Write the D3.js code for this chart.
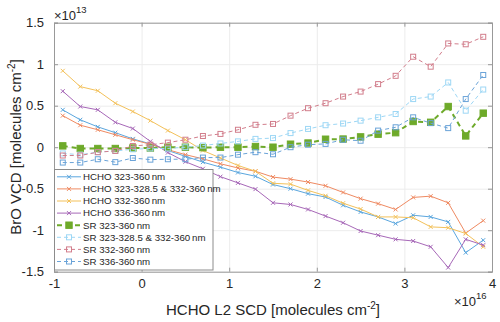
<!DOCTYPE html>
<html><head><meta charset="utf-8">
<script src="https://cdn.jsdelivr.net/npm/d3@7"></script>
<style>html,body{margin:0;padding:0;background:#fff;}svg{display:block;font-family:"Liberation Sans",Arial,sans-serif;}</style>
</head><body>
<svg id="c" width="500" height="322"></svg>
<script>
const xValues = [-0.9,-0.7,-0.5,-0.3,-0.1,0.1,0.3,0.5,0.7,0.9,1.1,1.3,1.5,1.7,1.9,2.1,2.3,2.5,2.7,2.9,3.1,3.3,3.5,3.7,3.9];
const hcho323 = [0.45,0.33,0.245,0.175,0.10,0.04,-0.04,-0.11,-0.18,-0.24,-0.305,-0.35,-0.45,-0.50,-0.56,-0.60,-0.70,-0.78,-0.84,-0.92,-0.82,-0.84,-0.90,-1.27,-1.12];
const hcho323b = [0.38,0.265,0.21,0.15,0.09,0.035,-0.03,-0.09,-0.14,-0.20,-0.25,-0.29,-0.36,-0.385,-0.42,-0.465,-0.545,-0.62,-0.68,-0.75,-0.605,-0.59,-0.67,-1.035,-0.885];
const hcho332 = [0.92,0.73,0.68,0.53,0.43,0.32,0.20,0.09,-0.04,-0.13,-0.22,-0.29,-0.435,-0.445,-0.52,-0.585,-0.675,-0.745,-0.84,-0.84,-0.85,-0.96,-0.97,-1.04,-1.20];
const hcho336 = [0.675,0.49,0.45,0.30,0.225,0.07,-0.065,-0.175,-0.26,-0.355,-0.43,-0.505,-0.67,-0.69,-0.75,-0.83,-0.91,-1.01,-1.06,-1.11,-1.13,-1.20,-1.45,-1.11,-1.18];
const sr323 = [0.016,-0.016,-0.016,-0.016,-0.01,-0.01,0.0,0.0,-0.005,0.0,0.0,0.008,0.0,0.036,0.05,0.096,0.098,0.124,0.157,0.175,0.31,0.30,0.49,0.136,0.41];
const sr323b = [-0.075,-0.09,-0.06,-0.045,-0.025,-0.015,-0.015,0.0,0.02,0.045,0.07,0.10,0.11,0.17,0.22,0.265,0.285,0.32,0.36,0.40,0.58,0.61,0.78,0.44,0.695];
const sr332 = [-0.10,-0.10,-0.06,-0.045,0.015,0.03,0.055,0.09,0.135,0.16,0.21,0.27,0.28,0.38,0.47,0.53,0.61,0.67,0.76,0.86,1.09,0.97,1.25,1.24,1.33];
const sr336 = [-0.185,-0.185,-0.145,-0.18,-0.13,-0.15,-0.145,-0.145,-0.125,-0.125,-0.09,-0.06,-0.085,0.0,0.03,0.04,0.09,0.078,0.20,0.24,0.36,0.29,0.23,0.58,0.87];
const seriesNames = ["HCHO 323-360\u2009nm","HCHO 323-328.5 & 332-360\u2009nm","HCHO 332-360\u2009nm","HCHO 336-360\u2009nm","SR 323-360\u2009nm","SR 323-328.5 & 332-360\u2009nm","SR 332-360\u2009nm","SR 336-360\u2009nm"];
const xTicks = [-1,0,1,2,3,4];
const yTicks = [-1.5,-1,-0.5,0,0.5,1,1.5];

const seriesData = [hcho323,hcho323b,hcho332,hcho336,sr323,sr323b,sr332,sr336];
const styles = [
  {color:"#5aa6de", dash:null, w:1, marker:"x"},
  {color:"#ef8a62", dash:null, w:1, marker:"x"},
  {color:"#f3c15a", dash:null, w:1, marker:"x"},
  {color:"#a768b8", dash:null, w:1, marker:"x"},
  {color:"#6eaa2a", dash:"5,4", w:2, marker:"fsq"},
  {color:"#9dd7f5", dash:"4,3", w:1, marker:"sq"},
  {color:"#d27e8c", dash:"4,3", w:1, marker:"sq"},
  {color:"#6aa3d8", dash:"4,3", w:1, marker:"sq"}
];

const L=54, R=492, T=22.7, B=271.7;
const x = d3.scaleLinear().domain([-1,4]).range([L,R]);
const y = d3.scaleLinear().domain([-1.5,1.5]).range([B,T]);
const svg = d3.select("#c");
const fmt = d => String(d);

// grid
const gx = svg.append("g").attr("transform",`translate(0,${B})`)
  .call(d3.axisBottom(x).tickValues(xTicks).tickSize(-(B-T)).tickFormat(""));
gx.select(".domain").remove();
gx.selectAll("line").attr("stroke","#ececec");
const gy = svg.append("g").attr("transform",`translate(${L},0)`)
  .call(d3.axisLeft(y).tickValues(yTicks).tickSize(-(R-L)).tickFormat(""));
gy.select(".domain").remove();
gy.selectAll("line").attr("stroke","#ececec");

// series
const line = d3.line().x((d,i)=>x(xValues[i])).y(d=>y(d));
function drawMarker(g, st, cx, cy){
  if(st.marker==="x"){
    const s=2;
    g.append("path").attr("d",`M${cx-s},${cy-s}L${cx+s},${cy+s}M${cx-s},${cy+s}L${cx+s},${cy-s}`)
      .attr("stroke",st.color).attr("stroke-width",1).attr("fill","none");
  } else if(st.marker==="sq"){
    const s=2.5;
    g.append("rect").attr("x",cx-s).attr("y",cy-s).attr("width",2*s).attr("height",2*s)
      .attr("fill","none").attr("stroke",st.color).attr("stroke-width",1);
  } else {
    const s=3.2;
    g.append("rect").attr("x",cx-s).attr("y",cy-s).attr("width",2*s).attr("height",2*s)
      .attr("fill",st.color).attr("stroke",st.color).attr("stroke-width",1);
  }
}
seriesData.forEach((vals,k)=>{
  const st=styles[k];
  const g=svg.append("g");
  g.append("path").datum(vals).attr("d",line).attr("fill","none")
    .attr("stroke",st.color).attr("stroke-width",st.w)
    .attr("stroke-dasharray",st.dash);
  vals.forEach((v,i)=>drawMarker(g,st,x(xValues[i]),y(v)));
});

// axes box & ticks
const axCol="#999999";
const ax = svg.append("g").attr("transform",`translate(0,${B})`)
  .call(d3.axisBottom(x).tickValues(xTicks).tickSize(-4).tickPadding(14).tickFormat(fmt));
const axT = svg.append("g").attr("transform",`translate(0,${T})`)
  .call(d3.axisTop(x).tickValues(xTicks).tickSize(-4).tickFormat(""));
const ayL = svg.append("g").attr("transform",`translate(${L},0)`)
  .call(d3.axisLeft(y).tickValues(yTicks).tickSize(-4).tickPadding(10).tickFormat(fmt));
const ayR = svg.append("g").attr("transform",`translate(${R},0)`)
  .call(d3.axisRight(y).tickValues(yTicks).tickSize(-4).tickFormat(""));
[ax,axT,ayL,ayR].forEach(a=>{
  a.select(".domain").attr("stroke",axCol);
  a.selectAll(".tick line").attr("stroke",axCol);
  a.selectAll("text").attr("fill","#262626").attr("font-size",13).attr("font-family","Liberation Sans, Arial, sans-serif");
});
ax.selectAll("text").attr("dy","0.2em");

// legend
const lg = svg.append("g");
const lx=54.5, ly=169.5, lw=158.5, lh=100.5;
lg.append("rect").attr("x",lx).attr("y",ly).attr("width",lw).attr("height",lh)
  .attr("fill","#fff").attr("stroke","#8c8c8c").attr("stroke-width",1);
seriesNames.forEach((name,k)=>{
  const st=styles[k];
  const yy = ly + 7.3 + k*12.1;
  const g=lg.append("g");
  g.append("line").attr("x1",57).attr("x2",81).attr("y1",yy).attr("y2",yy)
    .attr("stroke",st.color).attr("stroke-width",st.w).attr("stroke-dasharray",st.dash);
  drawMarker(g,st,69,yy);
  g.append("text").attr("x",83).attr("y",yy).attr("dy","0.35em")
    .attr("font-size",9.7).attr("fill","#262626").text(name);
});

// labels
svg.append("text").attr("x",273).attr("y",315).attr("text-anchor","middle")
  .attr("font-size",15).attr("fill","#262626")
  .html('HCHO L2 SCD [molecules cm<tspan dy="-6" font-size="10">-2</tspan><tspan dy="6">]</tspan>');
svg.append("text").attr("transform","translate(21,147) rotate(-90)").attr("text-anchor","middle")
  .attr("font-size",15).attr("fill","#262626")
  .html('BrO VCD [molecules cm<tspan dy="-6" font-size="10">-2</tspan><tspan dy="6">]</tspan>');
svg.append("text").attr("x",54).attr("y",20).attr("font-size",13).attr("fill","#262626")
  .html('\u00d710<tspan dy="-7" font-size="9.5">13</tspan>');
svg.append("text").attr("x",454).attr("y",306).attr("font-size",13).attr("fill","#262626")
  .html('\u00d710<tspan dy="-7" font-size="9.5">16</tspan>');
</script>
</body></html>
